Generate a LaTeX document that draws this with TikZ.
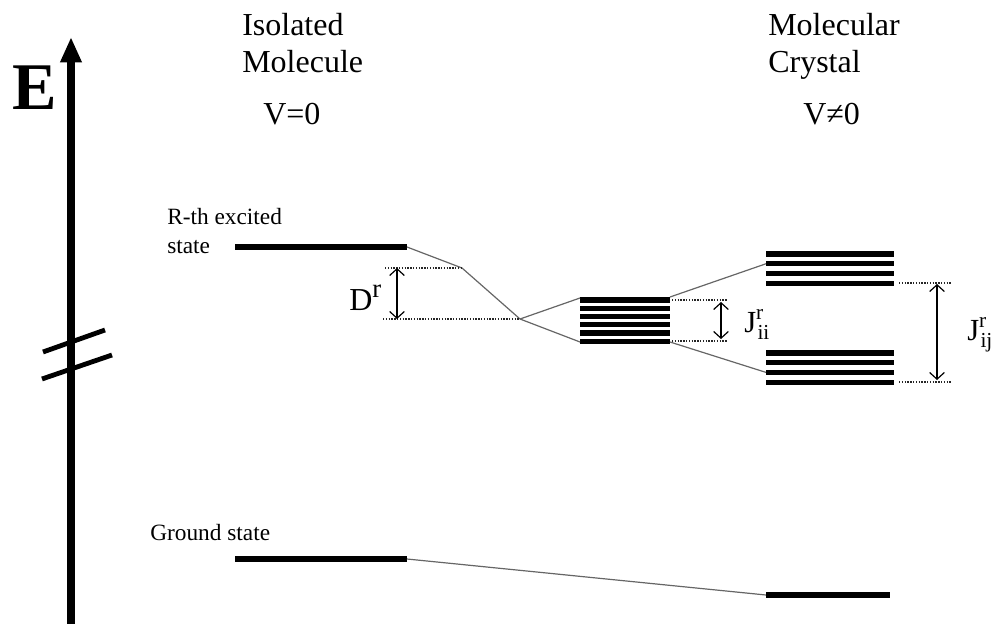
\documentclass[tikz,border=0pt]{standalone}
\usepackage{fontspec}
\setmainfont{Liberation Serif}
\usetikzlibrary{arrows.meta}
\tikzset{
  level/.style={line width=4pt},
  bar/.style={line width=3.8pt},
  link/.style={black!60, line width=0.9pt},
  guide/.style={black!85, densely dotted, line width=1.1pt},
  gap/.style={line width=0.9pt, {Straight Barb[length=5pt,width=11pt]}-{Straight Barb[length=5pt,width=11pt]}},
  title/.style={anchor=base west, inner sep=0pt, font=\fontsize{24}{24}\selectfont},
  small/.style={anchor=base west, inner sep=0pt, font=\fontsize{17.5}{17.5}\selectfont},
}
\begin{document}
\begin{tikzpicture}[x=0.75pt,y=-0.75pt]
\useasboundingbox (0,0) rectangle (1002,624);
% energy axis
\coordinate (axB) at (71,624);
\coordinate (axT) at (71,37);
\draw[line width=6pt, -{Triangle[length=19pt,width=15pt]}] (axB) -- (axT);
\node[anchor=base west, inner sep=0pt, font=\fontsize{50}{50}\selectfont\bfseries] (elabel) at (12,110) {E};
% break marks
\coordinate (b1a) at (43,352); \coordinate (b1b) at (105,330);
\coordinate (b2a) at (42,379); \coordinate (b2b) at (112,355);
\draw[line width=3.6pt] (b1a) -- (b1b);
\draw[line width=3.6pt] (b2a) -- (b2b);
% titles
\node[title] (iso1) at (242,36) {Isolated};
\node[title] (iso2) at (242,73) {Molecule};
\node[title] (v0) at (263,125) {V=0};
\node[title] (mc1) at (768,36) {Molecular};
\node[title] (mc2) at (768,73) {Crystal};
\node[title] (v1) at (803,125) {V≠0};
% labels
\node[small] (rth1) at (167,224) {R-th excited};
\node[small] (rth2) at (167,253) {state};
\node[small] (gs) at (150,540) {Ground state};
% isolated excited level
\coordinate (exL) at (235,247);
\coordinate (exR) at (407,247);
\coordinate (k1) at (462,268);
\coordinate (k2) at (520,319);
\draw[level] (exL) -- (exR);
\draw[link] (exR) -- (k1) -- (k2);
\coordinate (d1) at (385,268);
\coordinate (d2) at (383,319);
\draw[guide] (d1) -- (k1);
\draw[guide] (d2) -- (k2);
\coordinate (da) at (397,268);
\coordinate (db) at (397,319);
\draw[gap] (da) -- (db);
\node[anchor=base west, inner sep=0pt, font=\fontsize{24}{24}\selectfont] (dlab) at (349,310) {D\raisebox{0.4em}{\fontsize{20}{20}\selectfont r}};
% middle band
\foreach \i in {0,...,5} {
  \coordinate (mL\i) at (580,{300+8.25*\i});
  \coordinate (mR\i) at (670,{300+8.25*\i});
  \draw[bar] (mL\i) -- (mR\i);
}
\coordinate (mTL) at (580,298);
\coordinate (mBL) at (580,342);
\coordinate (mTR) at (670,297);
\coordinate (mBR) at (670,342);
\draw[link] (k2) -- (mTL);
\draw[link] (k2) -- (mBL);
% upper and lower bands
\foreach \i in {0,...,3} {
  \coordinate (uL\i) at (766,{254+9.75*\i});
  \coordinate (uR\i) at (894,{254+9.75*\i});
  \draw[bar] (uL\i) -- (uR\i);
  \coordinate (lL\i) at (766,{353+9.7*\i});
  \coordinate (lR\i) at (894,{353+9.7*\i});
  \draw[bar] (lL\i) -- (lR\i);
}
\draw[link] (mTR) -- (uL1);
\draw[link] (mBR) -- (lL2);
% J_ii gap
\coordinate (g1a) at (672,300); \coordinate (g1b) at (727,300);
\coordinate (g2a) at (672,341); \coordinate (g2b) at (727,341);
\draw[guide] (g1a) -- (g1b);
\draw[guide] (g2a) -- (g2b);
\coordinate (ja) at (721,302); \coordinate (jb) at (721,339);
\draw[gap] (ja) -- (jb);
\node[anchor=base west, inner sep=0pt, font=\fontsize{23}{23}\selectfont] (jii) at (744,332) {J\rlap{\raisebox{0.42em}{\fontsize{16}{16}\selectfont r}}\raisebox{-0.25em}{\fontsize{16}{16}\selectfont\kern1pt ii}};
% J_ij gap
\coordinate (h1a) at (899,283); \coordinate (h1b) at (952,283);
\coordinate (h2a) at (899,382); \coordinate (h2b) at (952,382);
\draw[guide] (h1a) -- (h1b);
\draw[guide] (h2a) -- (h2b);
\coordinate (ka) at (937,284); \coordinate (kb) at (937,380);
\draw[gap] (ka) -- (kb);
\node[anchor=base west, inner sep=0pt, font=\fontsize{23}{23}\selectfont] (jij) at (967,340) {J\rlap{\raisebox{0.42em}{\fontsize{16}{16}\selectfont r}}\raisebox{-0.25em}{\fontsize{16}{16}\selectfont\kern1pt ij}};
% ground states
\coordinate (gL) at (235,559);
\coordinate (gR) at (407,559);
\coordinate (cL) at (766,595);
\coordinate (cR) at (890,595);
\draw[level] (gL) -- (gR);
\draw[link] (gR) -- (cL);
\draw[level] (cL) -- (cR);
\end{tikzpicture}
\end{document}
